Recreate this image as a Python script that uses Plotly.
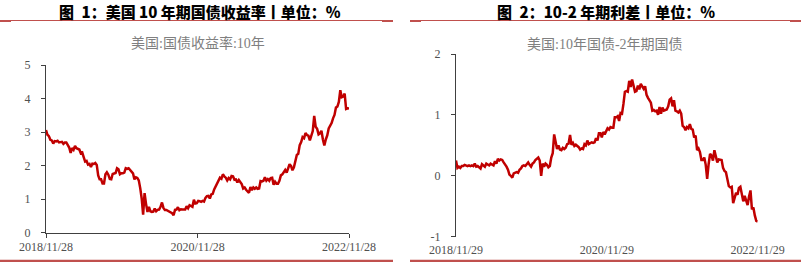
import plotly.graph_objects as go
import pandas as pd

# ---------------- data ----------------
title_left = "图\u20021：美国 10 年期国债收益率丨单位：%"
title_right = "图\u20022：10-2 年期利差丨单位：%"
sub_left = "美国:国债收益率:10年"
sub_right = "美国:10年国债-2年期国债"

left_start, left_end = "2018-11-28", "2022-11-28"
right_start, right_end = "2018-11-29", "2022-11-29"
left_ticks = ["2018-11-28", "2020-11-28", "2022-11-28"]
left_ticktext = ["2018/11/28", "2020/11/28", "2022/11/28"]
right_ticks = ["2018-11-29", "2020-11-29", "2022-11-29"]
right_ticktext = ["2018/11/29", "2020/11/29", "2022/11/29"]
left_yticks = [0, 1, 2, 3, 4, 5]
right_yticks = [-1, 0, 1, 2]
right_yticktext = ["-1", "0", "1", "2"]

# US 10Y yield, weekly readings
y10_2018 = [3.06, 2.92, 2.88, 2.77, 2.75]
y10_2019 = [2.66, 2.73, 2.72, 2.74, 2.69, 2.70, 2.71, 2.65, 2.69,
            2.69, 2.61, 2.54, 2.38, 2.52, 2.47, 2.59, 2.52,
            2.50, 2.48, 2.37, 2.39, 2.25, 2.12, 2.14, 2.03, 2.05,
            1.96, 2.06, 2.05, 2.08, 2.02, 1.71, 1.59, 1.59, 1.47,
            1.47, 1.74, 1.80, 1.73, 1.60, 1.59, 1.75, 1.77, 1.78,
            1.92, 1.89, 1.74, 1.77, 1.77, 1.79, 1.92, 1.90]
y10_2020 = [1.92, 1.87, 1.79, 1.77, 1.59, 1.65, 1.63, 1.56, 1.33,
            1.02, 0.54, 1.18, 0.86, 0.62, 0.77, 0.64, 0.62, 0.63,
            0.72, 0.64, 0.68, 0.69, 0.77, 0.90, 0.74, 0.68,
            0.68, 0.66, 0.63, 0.60, 0.58, 0.52, 0.68, 0.69, 0.76,
            0.67, 0.70, 0.69, 0.68, 0.69, 0.79, 0.73, 0.82, 0.78,
            0.77, 0.98, 0.87, 0.88, 0.95, 0.94, 0.92, 0.95, 0.93]
y10_2021 = [1.04, 1.09, 1.10, 1.02, 1.14, 1.16, 1.29, 1.38,
            1.47, 1.52, 1.64, 1.61, 1.74, 1.68, 1.64, 1.56, 1.63,
            1.59, 1.69, 1.68, 1.58, 1.59, 1.50, 1.57, 1.49, 1.45,
            1.32, 1.35, 1.28, 1.23, 1.19, 1.36, 1.27, 1.35,
            1.31, 1.35, 1.31, 1.32, 1.54, 1.53, 1.55, 1.65, 1.55,
            1.60, 1.55, 1.63, 1.64, 1.43, 1.52, 1.46, 1.46, 1.55]
y10_2022 = [1.71, 1.74, 1.83, 1.87, 1.79, 1.94, 2.04, 1.99,
            1.86, 1.95, 2.19, 2.32, 2.35, 2.61, 2.70, 2.85, 2.82,
            2.97, 2.91, 2.89, 2.75, 2.94, 3.03, 3.48, 3.16, 3.10,
            2.93, 2.96, 3.04, 2.78, 2.60, 2.78, 2.90, 3.11, 3.19,
            3.27, 3.41, 3.51, 3.73, 3.76, 3.90, 4.25, 4.04,
            4.06, 4.15, 3.69, 3.71, 3.70]

# US 10Y - 2Y spread, weekly readings
sp_2018 = [0.25, 0.13, 0.15, 0.13, 0.16]
sp_2019 = [0.16, 0.18, 0.17, 0.16, 0.17, 0.16, 0.17, 0.16, 0.20,
           0.15, 0.16, 0.14, 0.12, 0.19, 0.17, 0.15, 0.20,
           0.18, 0.17, 0.20, 0.19, 0.17, 0.24, 0.20, 0.28, 0.25,
           0.27, 0.26, 0.22, 0.19, 0.15, 0.10, 0.02, 0.00, -0.03,
           0.04, 0.05, 0.06, 0.05, 0.10, 0.12, 0.16, 0.17, 0.16,
           0.19, 0.22, 0.18, 0.15, 0.20, 0.22, 0.26, 0.29]
sp_2020 = [0.30, 0.25, 0.00, 0.20, 0.15, 0.20, 0.18, 0.14, 0.16,
           0.30, 0.37, 0.68, 0.56, 0.44, 0.50, 0.43, 0.42, 0.46,
           0.44, 0.46, 0.52, 0.53, 0.67, 0.51, 0.54, 0.49,
           0.51, 0.49, 0.47, 0.43, 0.45, 0.44, 0.52, 0.50, 0.58,
           0.52, 0.53, 0.55, 0.54, 0.55, 0.62, 0.58, 0.70, 0.70,
           0.63, 0.72, 0.68, 0.72, 0.78, 0.76, 0.80, 0.79, 0.79]
sp_2021 = [0.96, 0.96, 0.98, 0.90, 1.03, 1.02, 1.18, 1.38,
           1.39, 1.38, 1.56, 1.46, 1.58, 1.47, 1.38, 1.39, 1.48,
           1.42, 1.51, 1.47, 1.43, 1.47, 1.33, 1.28, 1.23,
           1.20, 1.07, 1.08, 1.06, 1.07, 1.00, 1.13, 1.02, 1.12,
           1.07, 1.08, 1.09, 1.14, 1.25, 1.27, 1.14, 1.24, 1.07,
           1.06, 1.04, 1.07, 1.02, 0.82, 0.80, 0.75, 0.80, 0.78]
sp_2022 = [0.85, 0.77, 0.76, 0.63, 0.66, 0.42, 0.45, 0.39,
           0.26, 0.26, 0.30, 0.18, -0.05, 0.19, 0.36, 0.33, 0.25,
           0.42, 0.30, 0.22, 0.27, 0.27, 0.26, 0.13, 0.08, 0.06,
           -0.07, -0.17, -0.19, -0.18, -0.45, -0.36, -0.28, -0.31,
           -0.20, -0.18, -0.33, -0.42, -0.33, -0.39, -0.48, -0.34, -0.24,
           -0.55, -0.52, -0.65, -0.74, -0.75]

y10 = y10_2018 + y10_2019 + y10_2020 + y10_2021 + y10_2022
spread = sp_2018 + sp_2019 + sp_2020 + sp_2021 + sp_2022
dates_left = pd.date_range(left_start, left_end, periods=len(y10))
dates_right = pd.date_range(right_start, right_end, periods=len(spread))

# ---------------- styles ----------------
W, H = 801, 262
RED = "#C00000"
AX = "#404040"
TICKFONT = dict(family="Liberation Serif, Times New Roman, serif", size=12, color="#505050")
HEADFONT = dict(family="Noto Sans CJK SC, sans-serif", size=15, color="#000000", weight=900)
SUBFONT = dict(family="Liberation Serif, Noto Sans CJK SC, serif", size=14, color="#808080")
ACCENT = "#C0504D"

def px_x(p):
    return p / W

def px_y(p):
    return 1 - p / H

fig = go.Figure()
fig.add_trace(go.Scatter(x=dates_left, y=y10, mode="lines", xaxis="x", yaxis="y",
                         line=dict(color=RED, width=2.5), hoverinfo="skip"))
fig.add_trace(go.Scatter(x=dates_right, y=spread, mode="lines", xaxis="x2", yaxis="y2",
                         line=dict(color=RED, width=2.5), hoverinfo="skip"))

common = dict(showgrid=False, zeroline=False, showline=True, linecolor=AX, linewidth=1,
              ticks="outside", ticklen=4, tickcolor=AX, tickwidth=1, tickfont=TICKFONT,
              automargin=False)

fig.update_layout(
    width=W, height=H, margin=dict(l=0, r=0, t=0, b=0, autoexpand=False),
    paper_bgcolor="white", plot_bgcolor="white", showlegend=False,
    xaxis=dict(domain=[px_x(46), px_x(349)], anchor="y", type="date",
               range=[left_start, left_end], tickvals=left_ticks, ticktext=left_ticktext,
               ticklabelstandoff=-1, **common),
    yaxis=dict(domain=[px_y(232.7), px_y(65)], anchor="x", range=[0, 5],
               tickvals=left_yticks, ticklabelstandoff=8, **common),
    xaxis2=dict(domain=[px_x(456), px_x(757.7)], anchor="y2", type="date",
                range=[right_start, right_end], tickvals=right_ticks, ticktext=right_ticktext,
                showgrid=False, zeroline=False, showline=False, ticks="outside", ticklen=4,
                tickcolor="rgba(0,0,0,0)", tickfont=TICKFONT, ticklabelstandoff=-2,
                automargin=False),
    xaxis3=dict(overlaying="x2", anchor="free", position=px_y(176), type="date",
                range=[right_start, right_end], tickvals=right_ticks,
                showticklabels=False, showgrid=False, zeroline=False, showline=True,
                linecolor=AX, linewidth=1, ticks="outside", ticklen=4, tickcolor=AX,
                automargin=False),
    yaxis2=dict(domain=[px_y(236.7), px_y(54)], anchor="x2", range=[-1, 2],
                tickvals=right_yticks, ticktext=right_yticktext, ticklabelstandoff=8, **common),
)

annotations = [
    dict(text=title_left, x=px_x(199.5), y=px_y(11), font=HEADFONT),
    dict(text=title_right, x=px_x(606), y=px_y(11), font=HEADFONT),
    dict(text=sub_left, x=px_x(197.5), y=px_y(43.5), font=SUBFONT),
    dict(text=sub_right, x=px_x(605), y=px_y(44), font=SUBFONT),
]
for a in annotations:
    a.update(xref="paper", yref="paper", showarrow=False, xanchor="center", yanchor="middle")
fig.update_layout(annotations=annotations)

shapes = []
for x0, x1 in [(0, 393), (410, 801)]:
    shapes.append(dict(type="line", xref="paper", yref="paper", x0=px_x(x0), x1=px_x(x1),
                       y0=px_y(20.5), y1=px_y(20.5), line=dict(color=ACCENT, width=1.2)))
    for a0, a1 in [(x0, x0 + 11), (x1 - 11, x1)]:
        shapes.append(dict(type="rect", xref="paper", yref="paper", x0=px_x(a0), x1=px_x(a1),
                           y0=px_y(22), y1=px_y(20), line=dict(width=0), fillcolor=ACCENT))
    shapes.append(dict(type="line", xref="paper", yref="paper", x0=px_x(x0), x1=px_x(x1),
                       y0=px_y(261), y1=px_y(261), line=dict(color=ACCENT, width=2.5)))
fig.update_layout(shapes=shapes)

fig.write_html("out.html")
